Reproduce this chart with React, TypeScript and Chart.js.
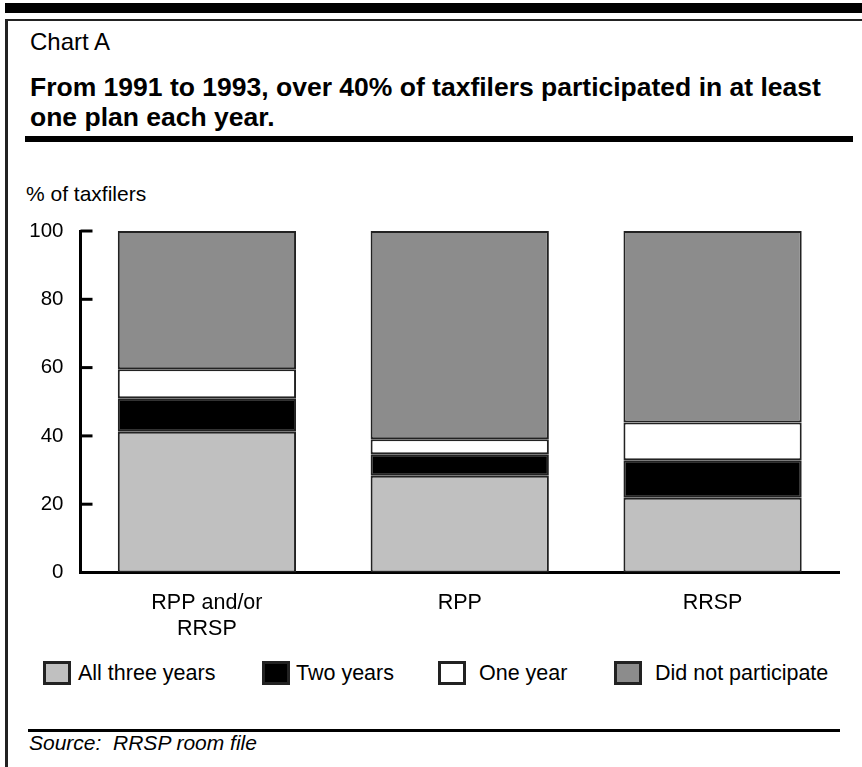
import React, { useEffect, useRef } from "react";
import { Chart, registerables } from "chart.js";

Chart.register(...registerables);

const categories: (string | string[])[] = [["RPP and/or", "RRSP"], "RPP", "RRSP"];
const seriesNames = ["All three years", "Two years", "One year", "Did not participate"];
const allThreeYears = [41.2, 28.3, 21.9];
const twoYears = [9.8, 6.3, 11.0];
const oneYear = [8.5, 4.4, 11.0];
const didNotParticipate = [40.5, 61.0, 56.1];
const yMin = 0;
const yMax = 100;
const yStep = 20;

const FONT = '"Liberation Sans", Arial, Helvetica, sans-serif';
const fills = ["#c0c0c0", "#000000", "#ffffff", "#8c8c8c"];
const edge = "#222222";

const innerTicks = {
  id: "innerTicks",
  afterDraw(chart: any) {
    const ys = chart.scales.y;
    const ctx = chart.ctx;
    const left = chart.chartArea.left;
    ctx.save();
    ctx.strokeStyle = "#000";
    ctx.lineWidth = 3;
    ys.ticks.forEach((t: any) => {
      const py = ys.getPixelForValue(t.value);
      ctx.beginPath();
      ctx.moveTo(left, py);
      ctx.lineTo(left + 12, py);
      ctx.stroke();
    });
    ctx.restore();
  },
};

function BarChart() {
  const ref = useRef<HTMLCanvasElement | null>(null);
  useEffect(() => {
    if (!ref.current) return;
    const series = [allThreeYears, twoYears, oneYear, didNotParticipate];
    const chart = new Chart(ref.current, {
      type: "bar",
      data: {
        labels: categories as any,
        datasets: series.map((d, i) => ({
          label: seriesNames[i],
          data: d,
          backgroundColor: fills[i],
          borderColor: edge,
          borderWidth: 2,
          borderSkipped: false,
          barPercentage: 0.705,
          categoryPercentage: 1,
        })),
      },
      options: {
        animation: false,
        responsive: false,
        maintainAspectRatio: false,
        layout: { padding: { top: 31, right: 23, left: 0, bottom: 0 } },
        plugins: {
          legend: { display: false },
          tooltip: { enabled: false },
          title: { display: false },
        },
        scales: {
          x: {
            stacked: true,
            grid: { display: false, drawTicks: false },
            border: { display: true, width: 3, color: "#000" },
            ticks: {
              color: "#000",
              padding: 17,
              font: { family: FONT, size: 21.5, lineHeight: 1.22 },
              maxRotation: 0,
              autoSkip: false,
            },
            afterFit(scale: any) {
              scale.height = 87.5;
            },
          },
          y: {
            stacked: true,
            min: yMin,
            max: yMax,
            grid: { display: false, drawTicks: false },
            border: { display: true, width: 3, color: "#000" },
            ticks: {
              stepSize: yStep,
              color: "#000",
              padding: 17,
              font: { family: FONT, size: 20.5 },
            },
            afterFit(scale: any) {
              scale.width = 80.5;
            },
          },
        },
      },
      plugins: [innerTicks],
    });
    return () => chart.destroy();
  }, []);
  return (
    <canvas
      ref={ref}
      width={862}
      height={460}
      style={{ position: "absolute", left: 0, top: 200, width: 862, height: 460 }}
    />
  );
}

const legendPos = [
  { box: 43, text: 78 },
  { box: 262, text: 296 },
  { box: 438, text: 479 },
  { box: 614, text: 655 },
];

export default function App() {
  const text: React.CSSProperties = {
    position: "absolute",
    fontFamily: FONT,
    color: "#000",
    whiteSpace: "pre",
    margin: 0,
  };
  return (
    <div
      style={{
        position: "absolute",
        left: 0,
        top: 0,
        width: 862,
        height: 767,
        background: "#fff",
        overflow: "hidden",
      }}
    >
      <div style={{ position: "absolute", left: 5, top: 3, width: 857, height: 10, background: "#000" }} />
      <div style={{ position: "absolute", left: 5, top: 19, width: 857, height: 2, background: "#222" }} />
      <div style={{ position: "absolute", left: 5, top: 19, width: 3, height: 748, background: "#222" }} />
      <div style={{ ...text, left: 30, top: 28, fontSize: 24, lineHeight: "28px" }}>Chart A</div>
      <div style={{ ...text, left: 30, top: 72, fontSize: 26.5, lineHeight: "30px", fontWeight: "bold" }}>
        {"From 1991 to 1993, over 40% of taxfilers participated in at least"}
        <br />
        {"one plan each year."}
      </div>
      <div style={{ position: "absolute", left: 25, top: 136, width: 828, height: 6, background: "#000" }} />
      <div style={{ ...text, left: 26, top: 182, fontSize: 21, lineHeight: "24px" }}>% of taxfilers</div>
      <BarChart />
      {seriesNames.map((n, i) => (
        <React.Fragment key={n}>
          <div
            style={{
              position: "absolute",
              left: legendPos[i].box,
              top: 661,
              width: 28,
              height: 24,
              boxSizing: "border-box",
              border: "3px solid #222",
              background: fills[i],
            }}
          />
          <div style={{ ...text, left: legendPos[i].text, top: 661, fontSize: 21.5, lineHeight: "24px" }}>{n}</div>
        </React.Fragment>
      ))}
      <div style={{ position: "absolute", left: 28, top: 729, width: 812, height: 3, background: "#000" }} />
      <div style={{ ...text, left: 29, top: 731, fontSize: 21, lineHeight: "24px", fontStyle: "italic" }}>
        {"Source:  RRSP room file"}
      </div>
    </div>
  );
}
